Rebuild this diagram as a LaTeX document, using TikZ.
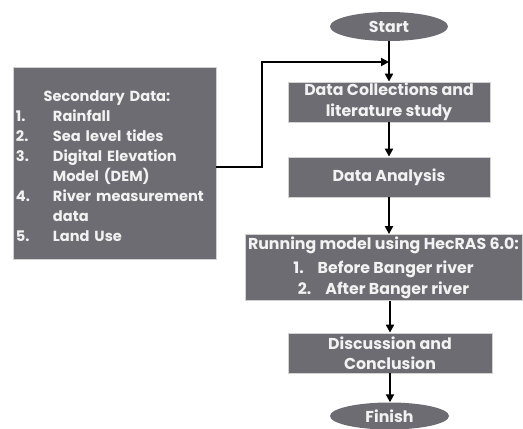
\documentclass[tikz,border=0pt]{standalone}
\usepackage{fontspec}
\setmainfont{Poppins}
\usetikzlibrary{arrows.meta,shapes.geometric}
\definecolor{boxgray}{RGB}{108,108,114}
\definecolor{boxtext}{RGB}{242,242,242}

\begin{document}
\begin{tikzpicture}[x=1pt,y=-1pt,
    stepbox/.style={draw=gray!35,line width=0.8pt,fill=boxgray,text=boxtext,
      font=\fontsize{15.8}{20.5}\selectfont\bfseries,align=center,inner sep=0pt},
    terminal/.style={ellipse,fill=boxgray,text=boxtext,
      font=\fontsize{15.8}{20.5}\selectfont\bfseries,inner sep=0pt},
    flow/.style={line width=2pt,-{Triangle[length=8pt,width=8pt]}}
  ]
    \useasboundingbox (0,0) rectangle (523,429);
    \node[terminal,minimum width=118,minimum height=29] (start) at (389,26.5) {Start};
    \node[stepbox,minimum width=202,minimum height=40] (dc) at (389,102)
      {Data Collections and\\literature study};
    \node[stepbox,minimum width=202,minimum height=40] (da) at (389,177)
      {Data Analysis};
    \node[stepbox,minimum width=277,minimum height=66] (run) at (383.5,267.5)
      {Running model using HecRAS 6.0:\\[4pt]
       1.\hspace{14pt}Before Banger river\\
       2.\hspace{14pt}After Banger river};
    \node[stepbox,minimum width=204,minimum height=40] (dis) at (390,353)
      {Discussion and\\Conclusion};
    \node[terminal,minimum width=119,minimum height=27] (fin) at (389.5,416) {Finish};
    %% left box with the input data
    \node[stepbox,font=\fontsize{14.6}{19.9}\selectfont\bfseries,
      minimum width=203,minimum height=192,text width=197,align=left] (sec) at (114.5,163)
      {\begin{tabular}{@{}p{37pt}@{}l@{}}
       \multicolumn{2}{@{}c@{}}{\hspace{-6pt}Secondary Data:}\\
       1. & Rainfall\\
       2. & Sea level tides\\
       3. & Digital Elevation\\
          & Model (DEM)\\
       4. & River measurement\\
          & data\\
       5. & Land Use\\[-9pt]
       \end{tabular}};
    \coordinate (join) at (389,62);

    \draw[flow] (start) -- (dc);
    \draw[flow] (dc) -- (da);
    \draw[flow] (da) -- (da|-run.north);
    \draw[flow] (run.south-|dis) -- (dis);
    \draw[flow] (dis) -- (dis|-fin.north);
    \draw[flow] ([yshift=-4pt]sec.east) -| ++(46,0) |- (join);
\end{tikzpicture}
\end{document}
